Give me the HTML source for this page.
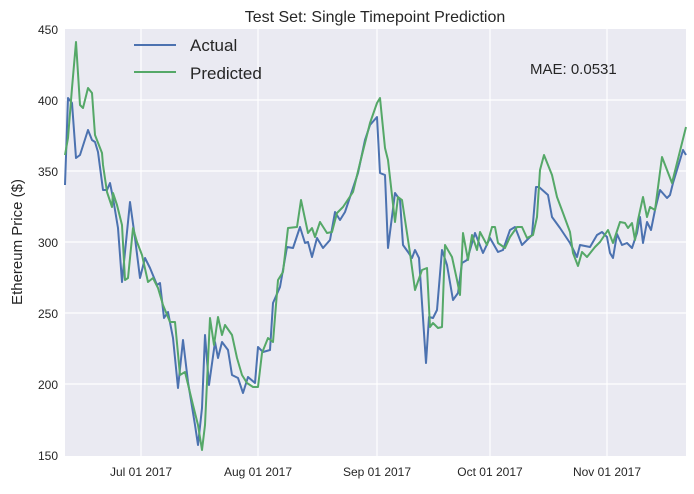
<!DOCTYPE html>
<html><head><style>
body{margin:0;background:#fff;}
svg text{font-family:"Liberation Sans",sans-serif;}
</style></head><body>
<svg width="694" height="489" xmlns="http://www.w3.org/2000/svg">
<rect x="65" y="29" width="621" height="427" fill="#eaeaf2"/>
<g stroke="#fff" stroke-width="1.2">
<line x1="65" y1="100" x2="686" y2="100"/><line x1="65" y1="171" x2="686" y2="171"/>
<line x1="65" y1="242" x2="686" y2="242"/><line x1="65" y1="313" x2="686" y2="313"/>
<line x1="65" y1="384" x2="686" y2="384"/>
<line x1="141" y1="29" x2="141" y2="456"/><line x1="258" y1="29" x2="258" y2="456"/>
<line x1="377" y1="29" x2="377" y2="456"/><line x1="490" y1="29" x2="490" y2="456"/>
<line x1="607" y1="29" x2="607" y2="456"/>
</g>
<g fill="none" stroke-width="2" stroke-linejoin="round">
<polyline stroke="#4c72b0" points="65,185 68,98 72,103 76,158 80,155 88,130 92,140 95,142 98,152 103,190 107,190 110,183 113,198 118,228 122,282 127,232 130,202 135,238 140,278 145,258 150,268 157,285 160,283 164,318 168,312 173,338 178,388 183,340 188,382 195,425 198,445 202,408 205,335 209,385 215,342 218,358 222,342 228,350 232,375 238,378 243,393 248,377 255,383 258,347 263,352 270,350 273,303 280,287 287,247 293,248 300,227 305,243 308,242 312,257 317,238 323,248 330,240 335,212 340,220 345,212 350,197 358,173 365,140 370,125 377,117 380,173 385,175 388,248 395,193 400,200 403,245 408,252 412,258 415,250 419,258 426,363 429,317 433,318 437,310 442,250 447,265 453,300 458,293 462,263 467,260 470,250 475,233 483,253 490,238 498,252 503,250 510,230 515,227 522,245 532,235 536,187 539,187 548,195 552,217 560,228 570,243 577,257 580,245 590,247 597,235 602,232 607,237 610,253 613,258 617,234 622,245 627,243 632,248 637,233 640,217 643,243 647,222 651,230 655,210 660,190 667,198 670,195 673,183 680,160 683,150 686,155"/>
<polyline stroke="#55a868" points="65,155 68,138 72,88 76,42 80,105 83,108 88,88 92,93 95,135 102,153 103,165 107,192 112,207 113,193 117,205 122,225 125,280 128,278 133,228 137,242 142,255 148,282 153,278 158,288 163,305 170,322 175,322 180,375 185,372 193,405 198,425 202,450 205,425 210,318 214,345 218,317 222,335 225,325 232,335 237,358 242,375 247,383 253,387 258,387 262,353 268,338 273,342 278,280 283,272 288,228 297,227 301,200 308,233 312,228 315,237 320,222 327,233 332,232 337,213 343,207 353,192 360,163 365,143 370,123 377,103 380,98 385,148 388,160 395,222 398,197 402,200 410,253 415,290 422,270 427,268 430,327 433,323 438,328 442,327 445,245 452,257 457,280 460,295 463,233 468,260 472,235 477,250 480,232 487,245 492,227 495,227 498,243 505,248 510,237 517,227 522,227 527,238 533,235 537,217 540,170 544,155 552,175 557,197 563,213 570,232 573,253 578,266 582,252 587,257 595,247 600,242 608,230 613,243 620,222 625,223 628,228 632,223 635,240 638,220 643,197 647,217 650,207 655,210 662,157 672,183 686,127"/>
</g>
<g font-size="12" fill="#262626" text-anchor="end">
<text x="58" y="34">450</text><text x="58" y="105">400</text><text x="58" y="176">350</text>
<text x="58" y="247">300</text><text x="58" y="318">250</text><text x="58" y="389">200</text><text x="58" y="460">150</text>
</g>
<g font-size="12" fill="#262626" text-anchor="middle">
<text x="141" y="476">Jul 01 2017</text><text x="258" y="476">Aug 01 2017</text>
<text x="377" y="476">Sep 01 2017</text><text x="490" y="476">Oct 01 2017</text><text x="607" y="476">Nov 01 2017</text>
</g>
<text x="375" y="22" font-size="16" fill="#262626" text-anchor="middle">Test Set: Single Timepoint Prediction</text>
<text transform="translate(22,242) rotate(-90)" font-size="15" fill="#262626" text-anchor="middle">Ethereum Price ($)</text>
<line x1="134" y1="45" x2="176" y2="45" stroke="#4c72b0" stroke-width="2"/>
<line x1="134" y1="72" x2="176" y2="72" stroke="#55a868" stroke-width="2"/>
<text x="190" y="51" font-size="17" fill="#262626">Actual</text>
<text x="190" y="79" font-size="17" fill="#262626">Predicted</text>
<text x="530" y="74" font-size="15" fill="#262626">MAE: 0.0531</text>
</svg>
</body></html>
